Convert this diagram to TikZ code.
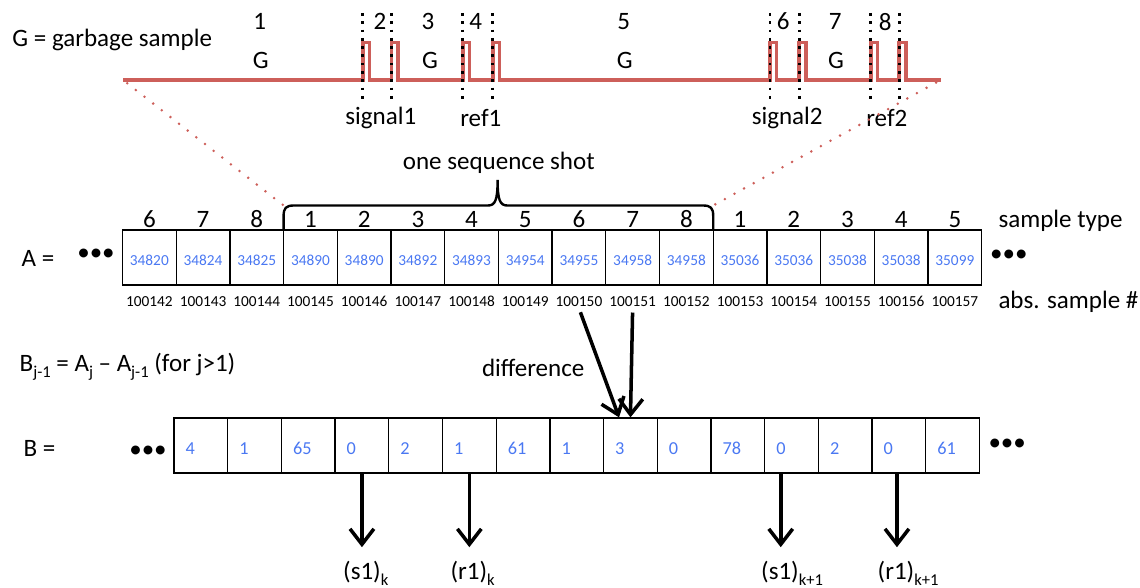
\documentclass[tikz,border=0pt]{standalone}
\usepackage{fontspec}
\setmainfont{Carlito}
\usepackage{tikz}
\usetikzlibrary{arrows.meta,positioning,calc}
\definecolor{sred}{HTML}{CD5F5A}
\definecolor{sblue}{HTML}{4A78F2}
\newcommand{\subtx}[1]{\raisebox{-0.27em}{\fontsize{11.8}{12}\selectfont #1}}
\tikzset{
  txt/.style={font=\fontsize{17.8}{20}\selectfont,inner sep=1pt},
  cell/.style={draw=black,line width=0.9pt,minimum width=1.3425cm,minimum height=1.375cm,inner sep=0pt},
  acell/.style={cell,text=sblue,font=\fontsize{10.9}{12}\selectfont,text height=0.38cm,text depth=0pt},
  bcell/.style={cell,text=sblue,font=\fontsize{13}{14}\selectfont,text height=0.46cm,text depth=0pt,text width=0.7625cm,inner xsep=0.29cm,align=left},
  absn/.style={font=\fontsize{10.9}{12}\selectfont,inner sep=1pt},
  arr/.style={-{Straight Barb[length=11pt,width=17pt]},line width=2.5pt},
  wave/.style={draw=sred,line width=2.5pt},
  cut/.style={line width=1.9pt,dash pattern=on 1.9pt off 4pt},
  zoomln/.style={draw=sred,line width=2pt,line cap=round,dash pattern=on 0pt off 7.8pt,dash phase=4pt},
  brc/.style={line width=1.7pt},
}
\begin{document}
\begin{tikzpicture}
  \useasboundingbox (0,0) rectangle (28.5,14.7);
  % signal trace
  \node[txt,anchor=west] (gdef) at (0.27,13.7) {G = garbage sample};
  \coordinate (wl) at (3.075,12.7);
  \coordinate (wr) at (23.52,12.7);
  \draw[wave] (wl) \foreach \p in {9.07,9.79,11.57,12.32,19.25,19.98,21.77,22.48} { -- (\p,12.7) -- (\p,13.64) -- ({\p+0.165},13.64) -- ({\p+0.165},12.7) } -- (wr);
  \foreach \p in {9.07,9.79,11.57,12.32,19.25,19.98,21.77,22.48}
    \draw[cut] (\p,14.375) -- (\p,12.125);
  \node[txt] (p1) at (6.49,14.16) {1};
  \node[txt] (p2) at (9.5,14.16) {2};
  \node[txt] (p3) at (10.7,14.16) {3};
  \node[txt] (p4) at (11.89,14.16) {4};
  \node[txt] (p5) at (15.59,14.16) {5};
  \node[txt] (p6) at (19.58,14.16) {6};
  \node[txt] (p7) at (20.88,14.16) {7};
  \node[txt] (p8) at (22.13,14.16) {8};
  \node[txt] (g1) at (6.52,13.2) {G};
  \node[txt] (g2) at (10.75,13.2) {G};
  \node[txt] (g3) at (15.62,13.2) {G};
  \node[txt] (g4) at (20.9,13.2) {G};
  \node[txt] (sig1) at (9.52,11.75) {signal1};
  \node[txt] (ref1) at (12.02,11.75) {ref1};
  \node[txt] (sig2) at (19.68,11.75) {signal2};
  \node[txt] (ref2) at (22.17,11.75) {ref2};
  % one shot brace
  \coordinate (brl) at (7.09,9.5625);
  \coordinate (brr) at (17.83,9.5625);
  \draw[zoomln] (wl) -- (brl);
  \draw[zoomln] (wr) -- (brr);
  \draw[brc] (7.09,8.95) -- (7.09,9.3) .. controls (7.09,9.5) and (7.15,9.5625) .. (7.35,9.5625) -- (12.2,9.5625) .. controls (12.38,9.5625) and (12.44,9.7) .. (12.44,10.2) .. controls (12.44,9.7) and (12.5,9.5625) .. (12.68,9.5625) -- (17.57,9.5625) .. controls (17.77,9.5625) and (17.83,9.5) .. (17.83,9.3) -- (17.83,8.95);
  \node[txt] (shot) at (12.47,10.62) {one sequence shot};
  % array A
  \node[txt,anchor=west] (alab) at (0.5,8.25) {A =};
  \node[txt] (adl) at (2.4,8.33) {•••};
  \foreach \val [count=\i from 0] in {34820,34824,34825,34890,34890,34892,34893,34954,34955,34958,34958,35036,35036,35038,35038,35099}
    \node[acell] (a\i) at ({3.0625+(\i+0.5)*1.3425},8.2625) {\val};
  \foreach \ty [count=\i from 0] in {6,7,8,1,2,3,4,5,6,7,8,1,2,3,4,5}
    \node[txt,anchor=base] (t\i) at ({3.0625+(\i+0.5)*1.3425},9.0) {\ty};
  \foreach \i in {0,...,15}
    \node[absn] (n\i) at ({3.0625+(\i+0.5)*1.3425},7.16) {\the\numexpr100142+\i\relax};
  \node[txt] (adr) at (25.22,8.3) {•••};
  \node[txt,anchor=base west] (stype) at (24.92,9.0) {sample type};
  \node[txt,anchor=west] (sabs) at (24.92,7.16) {abs. sample \#};
  % array B
  \node[txt,anchor=west] (bdef) at (0.45,5.53) {B\subtx{j-1} = A\subtx{j} -- A\subtx{j-1} (for j>1)};
  \node[txt] (diff) at (13.33,5.49) {difference};
  \node[txt,anchor=west] (blab) at (0.55,3.5) {B =};
  \node[txt] (bdl) at (3.7,3.41) {•••};
  \foreach \val [count=\i from 0] in {4,1,65,0,2,1,61,1,3,0,78,0,2,0,61}
    \node[bcell] (b\i) at ({4.35+(\i+0.5)*1.3425},3.5625) {\val};
  \node[txt] (bdr) at (25.18,3.57) {•••};
  \draw[arr,shorten <=3pt] (n8.south) -- ([xshift=-0.285cm]b8.north);
  \draw[arr,shorten <=3pt] (n9.south) -- (b8.north);
  % picked samples
  \node[txt,anchor=north] (s1k) at (9.05,0.72) {(s1)\rlap{\subtx{k}}};
  \node[txt,anchor=north] (r1k) at (11.72,0.72) {(r1)\rlap{\subtx{k}}};
  \node[txt,anchor=north] (s1n) at (19.5,0.72) {(s1)\rlap{\subtx{k+1}}};
  \node[txt,anchor=north] (r1n) at (22.4,0.72) {(r1)\rlap{\subtx{k+1}}};
  \draw[arr,shorten >=0.3cm] (b3.south) -- (b3.south |- s1k.north);
  \draw[arr,shorten >=0.3cm] (b5.south) -- (b5.south |- r1k.north);
  \draw[arr,shorten >=0.3cm] ([xshift=-0.27cm]b11.south) -- ([xshift=-0.27cm]b11.south |- s1n.north);
  \draw[arr,shorten >=0.3cm] ([xshift=-0.05cm]b13.south) -- ([xshift=-0.05cm]b13.south |- r1n.north);
\end{tikzpicture}
\end{document}
